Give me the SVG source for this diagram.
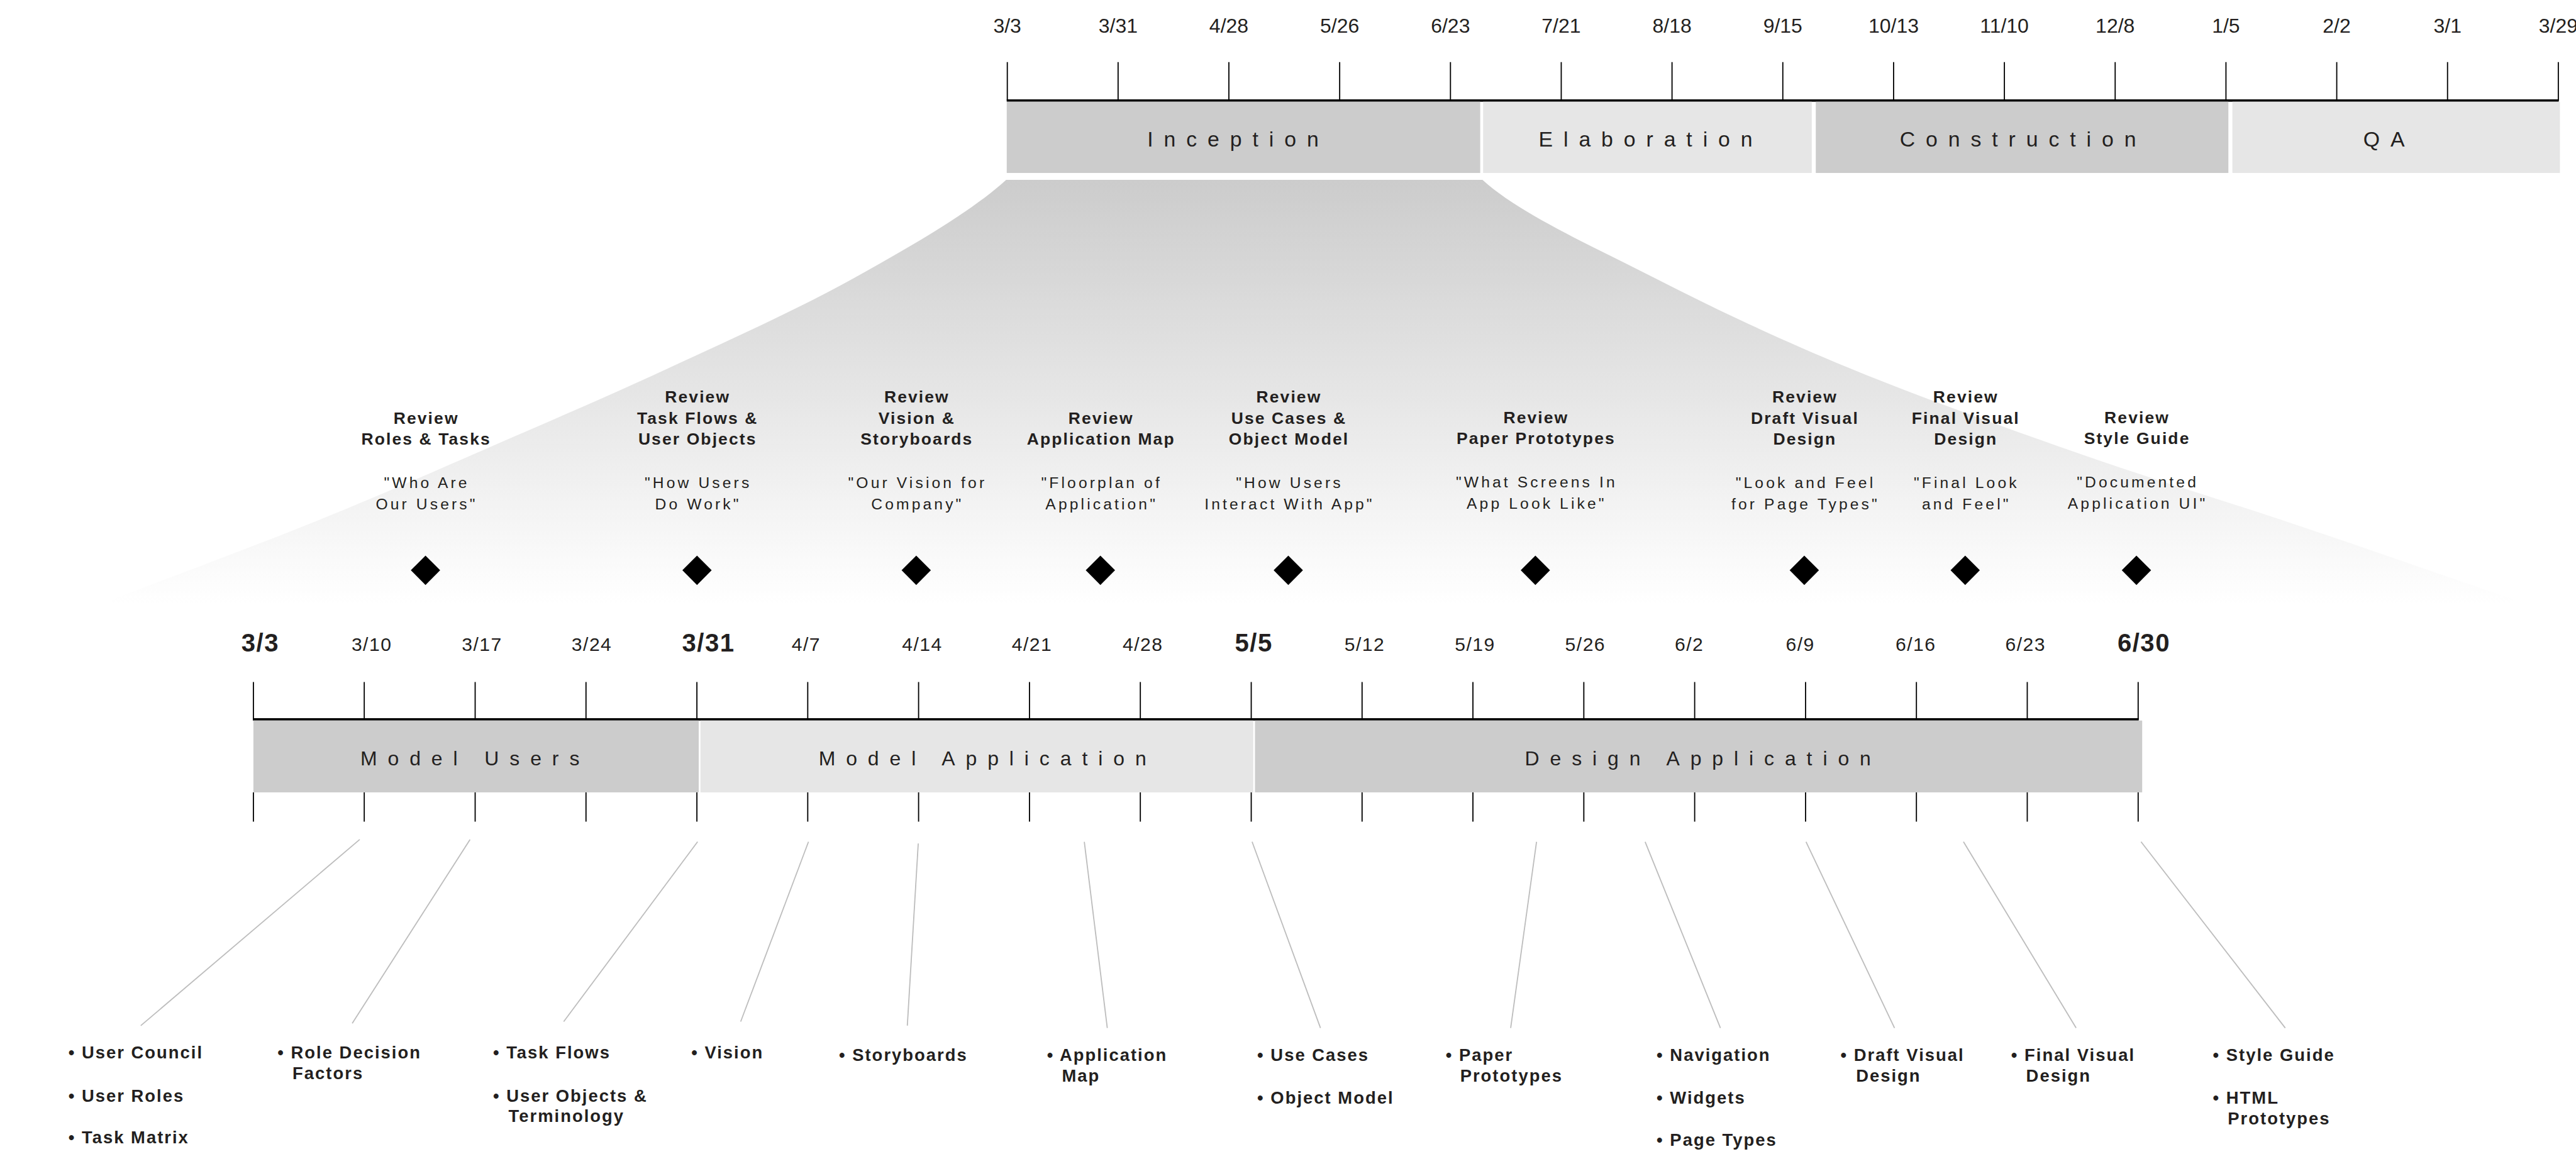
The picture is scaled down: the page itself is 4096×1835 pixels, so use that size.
<svg xmlns="http://www.w3.org/2000/svg" width="4096" height="1835" viewBox="0 0 4096 1835">
<defs>
<linearGradient id="fun" gradientUnits="userSpaceOnUse" x1="0" y1="313" x2="0" y2="1050">
<stop offset="0" stop-color="#cccccc"/>
<stop offset="1" stop-color="#ffffff"/>
</linearGradient>
<style>
text{font-family:"Liberation Sans",Arial,sans-serif;fill:#231f20}
.td{font-size:35px;text-anchor:middle}
.ph{font-size:37px;letter-spacing:18.5px;text-anchor:middle}
.ph2{font-size:35px;letter-spacing:18.5px;text-anchor:middle}
.bd{font-size:33px;letter-spacing:1.6px;text-anchor:middle}
.bdb{font-size:44px;font-weight:bold;letter-spacing:1.6px;text-anchor:middle}
.mb{font-size:29px;font-weight:bold;letter-spacing:2.3px;text-anchor:middle}
.mq{font-size:27px;letter-spacing:4.5px;text-anchor:middle}
.dl{font-size:30px;font-weight:bold;letter-spacing:2.2px}
.tk{stroke:#000;stroke-width:2;fill:none}
.base{stroke:#000;stroke-width:4;fill:none}
.con{stroke:#bdbdbd;stroke-width:2;fill:none}
.dia{fill:#000}
</style>
</defs>
<rect width="4096" height="1835" fill="#fff"/>
<g transform="scale(0.91368)">
<g id="funnel">
<path fill="url(#fun)" d="M1751,313 L2580,313 C2646,373 2773.8,429.5 2880,484 C2986.2,538.5 3093.7,589 3217,640 C3340.3,691 3490.3,744.5 3620,790 C3749.7,835.5 3869.3,870.8 3995,913 C4120.7,955.2 4247.7,999.7 4374,1043 L4374,1050 L191,1050 L191,1045 C310.7,999 438.5,952 550,907 C661.5,862 757.5,819.5 860,775 C962.5,730.5 1060.7,688.5 1165,640 C1269.3,591.5 1388.3,538.5 1486,484 C1583.7,429.5 1691,368 1751,313 Z"/>
</g>
<g id="top-timeline">
<g id="top-ticks">
<path class="tk" d="M1753,108V175 M1945.8,108V175 M2138.6,108V175 M2331.4,108V175 M2524.2,108V175 M2717,108V175 M2909.8,108V175 M3102.6,108V175 M3295.4,108V175 M3488.2,108V175 M3681,108V175 M3873.8,108V175 M4066.6,108V175 M4259.4,108V175 M4452.2,108V175"/>
<path class="base" d="M1752,175H4453"/>
</g>
<g id="top-dates">
<text class="td" x="1753" y="57">3/3</text>
<text class="td" x="1945.8" y="57">3/31</text>
<text class="td" x="2138.6" y="57">4/28</text>
<text class="td" x="2331.4" y="57">5/26</text>
<text class="td" x="2524.2" y="57">6/23</text>
<text class="td" x="2717" y="57">7/21</text>
<text class="td" x="2909.8" y="57">8/18</text>
<text class="td" x="3102.6" y="57">9/15</text>
<text class="td" x="3295.4" y="57">10/13</text>
<text class="td" x="3488.2" y="57">11/10</text>
<text class="td" x="3681" y="57">12/8</text>
<text class="td" x="3873.8" y="57">1/5</text>
<text class="td" x="4066.6" y="57">2/2</text>
<text class="td" x="4259.4" y="57">3/1</text>
<text class="td" x="4452.2" y="57">3/29</text>
</g>
<g id="phase-inception"><rect x="1752" y="177" width="824" height="124" fill="#cccccc"/><text class="ph" x="2155" y="255">Inception</text></g>
<g id="phase-elaboration"><rect x="2581" y="177" width="572" height="124" fill="#e6e6e6"/><text class="ph" x="2873" y="255">Elaboration</text></g>
<g id="phase-construction"><rect x="3160" y="177" width="718" height="124" fill="#cccccc"/><text class="ph" x="3521" y="255">Construction</text></g>
<g id="phase-qa"><rect x="3885" y="177" width="570" height="124" fill="#e6e6e6"/><text class="ph" x="4158" y="255">QA</text></g>
</g>
<g id="milestones">
<g id="ms-roles"><text class="mb" x="741.7" y="738">Review</text><text class="mb" x="741.7" y="774">Roles &amp; Tasks</text><text class="mq" x="742.7" y="849">"Who Are</text><text class="mq" x="742.7" y="886">Our Users"</text><path class="dia" d="M740.5,967 L766,992.5 L740.5,1018 L715,992.5Z"/></g>
<g id="ms-taskflows"><text class="mb" x="1214" y="701">Review</text><text class="mb" x="1214" y="738">Task Flows &amp;</text><text class="mb" x="1214" y="774">User Objects</text><text class="mq" x="1215" y="849">"How Users</text><text class="mq" x="1215" y="886">Do Work"</text><path class="dia" d="M1213,967 L1238.5,992.5 L1213,1018 L1187.5,992.5Z"/></g>
<g id="ms-vision"><text class="mb" x="1595.6" y="701">Review</text><text class="mb" x="1595.6" y="738">Vision &amp;</text><text class="mb" x="1595.6" y="774">Storyboards</text><text class="mq" x="1596.7" y="849">"Our Vision for</text><text class="mq" x="1596.7" y="886">Company"</text><path class="dia" d="M1594.5,967 L1620,992.5 L1594.5,1018 L1569,992.5Z"/></g>
<g id="ms-appmap"><text class="mb" x="1916.1" y="738">Review</text><text class="mb" x="1916.1" y="774">Application Map</text><text class="mq" x="1917.2" y="849">"Floorplan of</text><text class="mq" x="1917.2" y="886">Application"</text><path class="dia" d="M1915,967 L1940.5,992.5 L1915,1018 L1889.5,992.5Z"/></g>
<g id="ms-usecases"><text class="mb" x="2243.1" y="701">Review</text><text class="mb" x="2243.1" y="738">Use Cases &amp;</text><text class="mb" x="2243.1" y="774">Object Model</text><text class="mq" x="2244.2" y="849">"How Users</text><text class="mq" x="2244.2" y="886">Interact With App"</text><path class="dia" d="M2242,967 L2267.5,992.5 L2242,1018 L2216.5,992.5Z"/></g>
<g id="ms-paper"><text class="mb" x="2673.1" y="737">Review</text><text class="mb" x="2673.1" y="773">Paper Prototypes</text><text class="mq" x="2674.2" y="848">"What Screens In</text><text class="mq" x="2674.2" y="885">App Look Like"</text><path class="dia" d="M2672,967 L2697.5,992.5 L2672,1018 L2646.5,992.5Z"/></g>
<g id="ms-draft"><text class="mb" x="3141.1" y="701">Review</text><text class="mb" x="3141.1" y="738">Draft Visual</text><text class="mb" x="3141.1" y="774">Design</text><text class="mq" x="3142.2" y="849">"Look and Feel</text><text class="mq" x="3142.2" y="886">for Page Types"</text><path class="dia" d="M3140,967 L3165.5,992.5 L3140,1018 L3114.5,992.5Z"/></g>
<g id="ms-final"><text class="mb" x="3421.1" y="701">Review</text><text class="mb" x="3421.1" y="738">Final Visual</text><text class="mb" x="3421.1" y="774">Design</text><text class="mq" x="3422.2" y="849">"Final Look</text><text class="mq" x="3422.2" y="886">and Feel"</text><path class="dia" d="M3420,967 L3445.5,992.5 L3420,1018 L3394.5,992.5Z"/></g>
<g id="ms-style"><text class="mb" x="3719.1" y="737">Review</text><text class="mb" x="3719.1" y="773">Style Guide</text><text class="mq" x="3720.2" y="848">"Documented</text><text class="mq" x="3720.2" y="885">Application UI"</text><path class="dia" d="M3718,967 L3743.5,992.5 L3718,1018 L3692.5,992.5Z"/></g>
</g>
<g id="bottom-timeline">
<g id="bottom-ticks">
<path class="tk" d="M441,1187V1252 M633.9,1187V1252 M826.9,1187V1252 M1019.8,1187V1252 M1212.8,1187V1252 M1405.7,1187V1252 M1598.6,1187V1252 M1791.6,1187V1252 M1984.5,1187V1252 M2177.5,1187V1252 M2370.4,1187V1252 M2563.3,1187V1252 M2756.3,1187V1252 M2949.2,1187V1252 M3142.2,1187V1252 M3335.1,1187V1252 M3528,1187V1252 M3721,1187V1252"/>
<path class="tk" d="M441,1379V1430 M633.9,1379V1430 M826.9,1379V1430 M1019.8,1379V1430 M1212.8,1379V1430 M1405.7,1379V1430 M1598.6,1379V1430 M1791.6,1379V1430 M1984.5,1379V1430 M2177.5,1379V1430 M2370.4,1379V1430 M2563.3,1379V1430 M2756.3,1379V1430 M2949.2,1379V1430 M3142.2,1379V1430 M3335.1,1379V1430 M3528,1379V1430 M3721,1379V1430"/>
<path class="base" d="M440,1252H3722"/>
</g>
<g id="bottom-dates">
<text class="bdb" x="453" y="1134">3/3</text>
<text class="bd" x="647" y="1133">3/10</text>
<text class="bd" x="839" y="1133">3/17</text>
<text class="bd" x="1030" y="1133">3/24</text>
<text class="bdb" x="1233" y="1134">3/31</text>
<text class="bd" x="1403" y="1133">4/7</text>
<text class="bd" x="1605" y="1133">4/14</text>
<text class="bd" x="1796" y="1133">4/21</text>
<text class="bd" x="1989" y="1133">4/28</text>
<text class="bdb" x="2182" y="1134">5/5</text>
<text class="bd" x="2375" y="1133">5/12</text>
<text class="bd" x="2567" y="1133">5/19</text>
<text class="bd" x="2759" y="1133">5/26</text>
<text class="bd" x="2940" y="1133">6/2</text>
<text class="bd" x="3133" y="1133">6/9</text>
<text class="bd" x="3334" y="1133">6/16</text>
<text class="bd" x="3525" y="1133">6/23</text>
<text class="bdb" x="3731" y="1134">6/30</text>
</g>
<g id="phase-model-users"><rect x="441" y="1254" width="775" height="125" fill="#cccccc"/><text class="ph2" x="827" y="1332">Model Users</text></g>
<g id="phase-model-app"><rect x="1219" y="1254" width="962" height="125" fill="#e6e6e6"/><text class="ph2" x="1719" y="1332">Model Application</text></g>
<g id="phase-design-app"><rect x="2184" y="1254" width="1544" height="125" fill="#cccccc"/><text class="ph2" x="2964" y="1332">Design Application</text></g>
</g>
<g id="connectors">
<path class="con" d="M626,1461L245,1785"/>
<path class="con" d="M818,1461L613,1781"/>
<path class="con" d="M1214,1465L981,1778"/>
<path class="con" d="M1407,1465L1289,1778"/>
<path class="con" d="M1598,1468L1579,1785"/>
<path class="con" d="M1887,1465L1927,1789"/>
<path class="con" d="M2179,1465L2298,1789"/>
<path class="con" d="M2674,1465L2629,1789"/>
<path class="con" d="M2863,1465L2994,1789"/>
<path class="con" d="M3143,1465L3297,1789"/>
<path class="con" d="M3417,1465L3613,1789"/>
<path class="con" d="M3726,1465L3977,1789"/>
</g>
<g id="deliverables">
<g id="d-users"><text class="dl" x="119" y="1842">• User Council</text><text class="dl" x="119" y="1917">• User Roles</text><text class="dl" x="119" y="1990">• Task Matrix</text></g>
<g id="d-roles"><text class="dl" x="483" y="1842">• Role Decision</text><text class="dl" x="509" y="1878">Factors</text></g>
<g id="d-tasks"><text class="dl" x="858" y="1842">• Task Flows</text><text class="dl" x="858" y="1917">• User Objects &amp;</text><text class="dl" x="885" y="1953">Terminology</text></g>
<g id="d-vision"><text class="dl" x="1203" y="1842">• Vision</text></g>
<g id="d-story"><text class="dl" x="1460" y="1846">• Storyboards</text></g>
<g id="d-appmap"><text class="dl" x="1822" y="1846">• Application</text><text class="dl" x="1848" y="1883">Map</text></g>
<g id="d-usecases"><text class="dl" x="2188" y="1846">• Use Cases</text><text class="dl" x="2188" y="1921">• Object Model</text></g>
<g id="d-paper"><text class="dl" x="2516" y="1846">• Paper</text><text class="dl" x="2541" y="1883">Prototypes</text></g>
<g id="d-nav"><text class="dl" x="2883" y="1846">• Navigation</text><text class="dl" x="2883" y="1921">• Widgets</text><text class="dl" x="2883" y="1994">• Page Types</text></g>
<g id="d-draft"><text class="dl" x="3203" y="1846">• Draft Visual</text><text class="dl" x="3230" y="1883">Design</text></g>
<g id="d-final"><text class="dl" x="3500" y="1846">• Final Visual</text><text class="dl" x="3526" y="1883">Design</text></g>
<g id="d-style"><text class="dl" x="3851" y="1846">• Style Guide</text><text class="dl" x="3851" y="1921">• HTML</text><text class="dl" x="3877" y="1957">Prototypes</text></g>
</g>
</g>
</svg>
